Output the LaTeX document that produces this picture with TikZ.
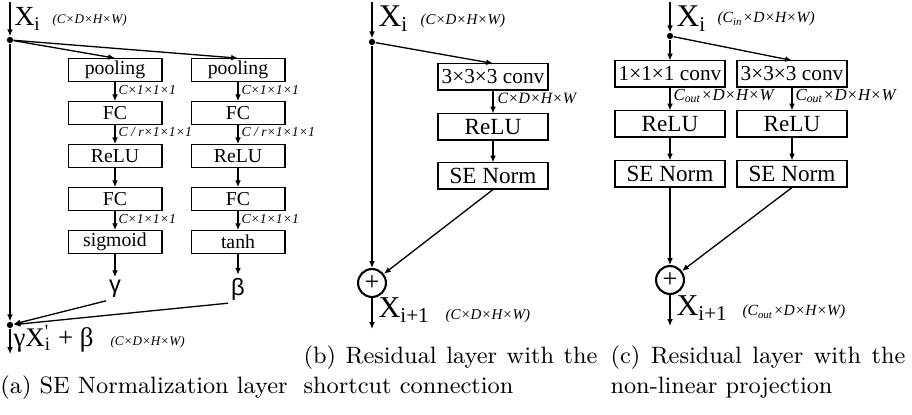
\documentclass[tikz,border=0pt]{standalone}
\usepackage{fontspec}
\usepackage{tikz}
\usetikzlibrary{arrows.meta}
\newfontfamily\tnr{Liberation Serif}
\newfontfamily\gsans{Liberation Sans}
\newcommand{\fs}[1]{\fontsize{#1}{#1}\selectfont}
\tikzset{>={Latex[length=2.6pt,width=2.2pt]}}
\tikzset{
  conn/.style={line width=.5pt},
  blka/.style={draw,line width=.4pt,inner sep=0pt,minimum width=35.7pt,minimum height=8.6pt,font=\tnr\fs{7.5}},
  blkb/.style={draw,line width=.4pt,inner sep=0pt,minimum width=41.8pt,minimum height=9.9pt,font=\tnr\fs{8.8}},
  convbox/.style={blkb,font=\tnr\fs{8.1}},
  dimlab/.style={anchor=west,inner sep=0pt,font=\tnr\itshape\fs{5.2}},
  dimtag/.style={anchor=base west,inner sep=0pt,font=\tnr\itshape\fs{#1}},
  xlab/.style={anchor=base west,inner sep=0pt,font=\tnr\fs{#1}},
  dot/.style={circle,fill,inner sep=0pt,minimum size=2.4pt},
  plus/.style={circle,draw,line width=.8pt,inner sep=0pt,minimum size=10.6pt,font=\tnr\fs{10}},
  gk/.style={inner sep=1pt,font=\gsans\fs{9}},
  capt/.style={anchor=base west,inner sep=0pt,font=\fontsize{9}{11.4}\selectfont}
}
\begin{document}
\begin{tikzpicture}[x=0.38pt,y=-0.38pt]
\useasboundingbox (0,0) rectangle (912,415);
% (a) SE normalization
\coordinate (ia) at (10,2);
\node[dot] (sa) at (10,40) {};
\node[dot] (ja) at (10,325) {};
\coordinate (oa) at (10,354);
\node[xlab=10.5] (xa) at (14,26) {X\textsubscript{i}};
\node[dimtag=5] (da) at (52,24) {(C×D×H×W)};
\node[blka] (poolL) at (115,70) {pooling};
\node[blka] (fcL) at (115,113) {FC};
\node[blka] (reluL) at (115,156) {ReLU};
\node[blka] (fcLL) at (115,199) {FC};
\node[blka] (sig) at (115,242) {sigmoid};
\node[blka] (poolR) at (238,70) {pooling};
\node[blka] (fcR) at (238,113) {FC};
\node[blka] (reluR) at (238,156) {ReLU};
\node[blka] (fcRR) at (238,199) {FC};
\node[blka] (tnh) at (238,242) {tanh};
\node[gk] (gam) at (115,289) {γ};
\node[gk] (bet) at (238,289) {β};
\node[dimlab] at (118,90) {C×1×1×1};
\node[dimlab] at (118,132) {C / r×1×1×1};
\node[dimlab] at (118,219) {C×1×1×1};
\node[dimlab] at (241,90) {C×1×1×1};
\node[dimlab] at (241,132) {C / r×1×1×1};
\node[dimlab] at (241,219) {C×1×1×1};
\node[xlab=10.2] (ya) at (13,347) {γX\rlap{\textsuperscript{'}}\textsubscript{i} + β};
\node[dimtag=5] at (110,346) {(C×D×H×W)};
\draw[conn,->] (ia) -- (sa);
\draw[conn,->] (sa) -- (ja);
\draw[conn,->] (ja) -- (oa);
\draw[conn,->] (sa) -- (poolL.north);
\draw[conn,->] (sa) -- (poolR.north);
\draw[conn,->] (poolL) -- (fcL);
\draw[conn,->] (fcL) -- (reluL);
\draw[conn,->] (reluL) -- (fcLL);
\draw[conn,->] (fcLL) -- (sig);
\draw[conn,->] (sig) -- (gam);
\draw[conn,->] (poolR) -- (fcR);
\draw[conn,->] (fcR) -- (reluR);
\draw[conn,->] (reluR) -- (fcRR);
\draw[conn,->] (fcRR) -- (tnh);
\draw[conn,->] (tnh) -- (bet);
\draw[conn,->] (gam.south west) -- (ja);
\draw[conn,->] (bet.south west) -- (ja);
% (b) shortcut
\coordinate (ib) at (372,2);
\node[dot] (sb) at (372,42) {};
\node[xlab=12] (xb) at (378,27) {X\textsubscript{i}};
\node[dimtag=5.7] at (420,25) {(C×D×H×W)};
\node[convbox] (convb) at (493,77) {3×3×3 conv};
\node[blkb] (relub) at (493,127) {ReLU};
\node[blkb] (seb) at (493,176) {SE Norm};
\node[dimlab,font=\tnr\itshape\fs{6}] at (497,98) {C×D×H×W};
\node[plus] (pb) at (372,283) {+};
\coordinate (ob) at (372,329);
\node[xlab=11.5] (xob) at (378,318) {X\textsubscript{i+1}};
\node[dimtag=5.7] at (445,320) {(C×D×H×W)};
\draw[conn,->] (ib) -- (sb);
\draw[conn,->] (sb) -- (convb.north);
\draw[conn,->] (convb) -- (relub);
\draw[conn,->] (relub) -- (seb);
\draw[conn,->] (sb) -- (pb);
\draw[conn,->] (seb.south) -- (pb);
\draw[conn,->] (pb) -- (ob);
% (c) projection
\coordinate (ic) at (670,2);
\node[dot] (sc) at (670,36) {};
\node[xlab=12] (xc) at (676,27) {X\textsubscript{i}};
\node[dimtag=5.9] at (717,23) {(C\textsubscript{in}×D×H×W)};
\node[convbox] (c1) at (670,74) {1×1×1 conv};
\node[convbox] (c3) at (792,74) {3×3×3 conv};
\node[blkb] (rl) at (670,124) {ReLU};
\node[blkb] (rr) at (792,124) {ReLU};
\node[blkb] (sl) at (670,174) {SE Norm};
\node[blkb] (sr) at (792,174) {SE Norm};
\node[dimlab,font=\tnr\itshape\fs{6.4}] at (673,96) {C\textsubscript{out}×D×H×W};
\node[dimlab,font=\tnr\itshape\fs{6.4}] at (795,96) {C\textsubscript{out}×D×H×W};
\node[plus] (pc) at (670,280) {+};
\coordinate (oc) at (670,326);
\node[xlab=11.5] (xoc) at (676,316) {X\textsubscript{i+1}};
\node[dimtag=5.9] at (742,316) {(C\textsubscript{out}×D×H×W)};
\draw[conn,->] (ic) -- (sc);
\draw[conn,->] (sc) -- (c1);
\draw[conn,->] (sc) -- (c3.north);
\draw[conn,->] (c1) -- (rl);
\draw[conn,->] (c3) -- (rr);
\draw[conn,->] (rl) -- (sl);
\draw[conn,->] (rr) -- (sr);
\draw[conn,->] (sl) -- (pc);
\draw[conn,->] (sr.south) -- (pc);
\draw[conn,->] (pc) -- (oc);
% captions
\node[anchor=base,inner sep=0pt,font=\fontsize{9}{11.4}\selectfont] (capa) at (144,394) {(a) SE Normalization layer};
\node[capt] (capb) at (303,394) {\parbox[b]{111.7pt}{(b) Residual layer with the shortcut connection}};
\node[capt] (capc) at (610,394) {\parbox[b]{112.1pt}{(c) Residual layer with the non-linear projection}};
\end{tikzpicture}
\end{document}
